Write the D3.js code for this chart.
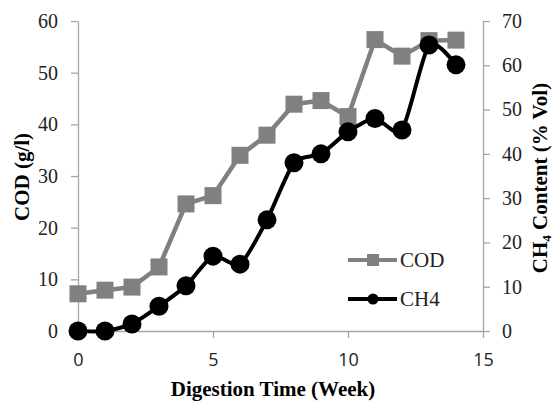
<!DOCTYPE html>
<html><head><meta charset="utf-8">
<script src="https://cdn.jsdelivr.net/npm/d3@7"></script>
<style>body{margin:0;background:#fff}svg{display:block}</style>
</head><body>
<svg id="c" width="556" height="404"></svg>
<script>
const weeks = [0,1,2,3,4,5,6,7,8,9,10,11,12,13,14];
const cod = [7.2,7.9,8.5,12.4,24.6,26.2,34.0,37.9,43.9,44.6,41.5,56.4,53.2,56.2,56.3];
const ch4 = [0,0,1.6,5.6,10.2,16.9,15.1,25.1,38.0,40.0,45.0,48.0,45.4,64.6,60.1];
const xTicks = [0,5,10,15];
const leftTicks = [0,10,20,30,40,50,60];
const rightTicks = [0,10,20,30,40,50,60,70];
const seriesNames = ["COD","CH4"];

const svg = d3.select("#c");
const x = d3.scaleLinear().domain([0,15]).range([78,483]);
const yL = d3.scaleLinear().domain([0,60]).range([331,21]);
const yR = d3.scaleLinear().domain([0,70]).range([331,21]);
const axisCol = "#a6a6a6";
const serif = "'Liberation Serif','Times New Roman',serif";

function styleAxis(g){
  g.selectAll("path,line").attr("stroke",axisCol).attr("stroke-width",1.3);
}
const gx = svg.append("g").attr("transform","translate(0,331)")
  .call(d3.axisBottom(x).tickValues(xTicks).tickSize(7).tickSizeOuter(0));
styleAxis(gx);
gx.selectAll("text").attr("font-family","'Open Sans',Lato,sans-serif").attr("font-size",18)
  .attr("fill","#222").attr("y",35).attr("dy",0);

const gl = svg.append("g").attr("transform","translate(78,0)")
  .call(d3.axisLeft(yL).tickValues(leftTicks).tickSize(7).tickSizeOuter(0).tickPadding(13));
styleAxis(gl);
gl.selectAll("text").attr("font-family",serif).attr("font-size",20).attr("fill","#222");

const gr = svg.append("g").attr("transform","translate(483,0)")
  .call(d3.axisRight(yR).tickValues(rightTicks).tickSize(7).tickSizeOuter(0).tickPadding(12));
styleAxis(gr);
gr.selectAll("text").attr("font-family",serif).attr("font-size",20).attr("fill","#222");

// COD line
const gray = "#808080";
svg.append("path").datum(weeks.map((w,i)=>[w,cod[i]]))
  .attr("fill","none").attr("stroke",gray).attr("stroke-width",4.5)
  .attr("d", d3.line().x(d=>x(d[0])).y(d=>yL(d[1])));
svg.selectAll(".sq").data(weeks.map((w,i)=>[w,cod[i]])).enter().append("rect")
  .attr("x",d=>x(d[0])-8.5).attr("y",d=>yL(d[1])-8.5).attr("width",17).attr("height",17).attr("fill",gray);

// CH4 line (smoothed)
svg.append("path").datum(weeks.map((w,i)=>[w,ch4[i]]))
  .attr("fill","none").attr("stroke","#000").attr("stroke-width",4)
  .attr("d", d3.line().curve(d3.curveCardinal.tension(0.3)).x(d=>x(d[0])).y(d=>yR(d[1])));
svg.selectAll(".ci").data(weeks.map((w,i)=>[w,ch4[i]])).enter().append("circle")
  .attr("cx",d=>x(d[0])).attr("cy",d=>yR(d[1])).attr("r",9.5).attr("fill","#000");

// Legend
const leg = [{name:seriesNames[0],col:gray,y:260,shape:"sq"},{name:seriesNames[1],col:"#000",y:299,shape:"ci"}];
leg.forEach(l=>{
  svg.append("line").attr("x1",348).attr("x2",397).attr("y1",l.y).attr("y2",l.y)
    .attr("stroke",l.col).attr("stroke-width",4);
  if(l.shape==="sq") svg.append("rect").attr("x",367).attr("y",l.y-6).attr("width",12).attr("height",12).attr("fill",l.col);
  else svg.append("circle").attr("cx",373).attr("cy",l.y).attr("r",5.5).attr("fill",l.col);
  svg.append("text").attr("x",400).attr("y",l.y+7).attr("font-family",serif).attr("font-size",21)
    .attr("fill","#222").text(l.name);
});

// Axis titles
svg.append("text").attr("x",273).attr("y",396).attr("text-anchor","middle")
  .attr("font-family",serif).attr("font-weight","bold").attr("font-size",21).text("Digestion Time (Week)");
svg.append("text").attr("transform","translate(29,177) rotate(-90)").attr("text-anchor","middle")
  .attr("font-family",serif).attr("font-weight","bold").attr("font-size",21).text("COD (g/l)");
const rt = svg.append("text").attr("transform","translate(547,178) rotate(-90)").attr("text-anchor","middle")
  .attr("font-family",serif).attr("font-weight","bold").attr("font-size",21);
rt.append("tspan").text("CH");
rt.append("tspan").attr("font-size",13).attr("dy",4).text("4");
rt.append("tspan").attr("dy",-4).text(" Content (% Vol)");
</script>
</body></html>
